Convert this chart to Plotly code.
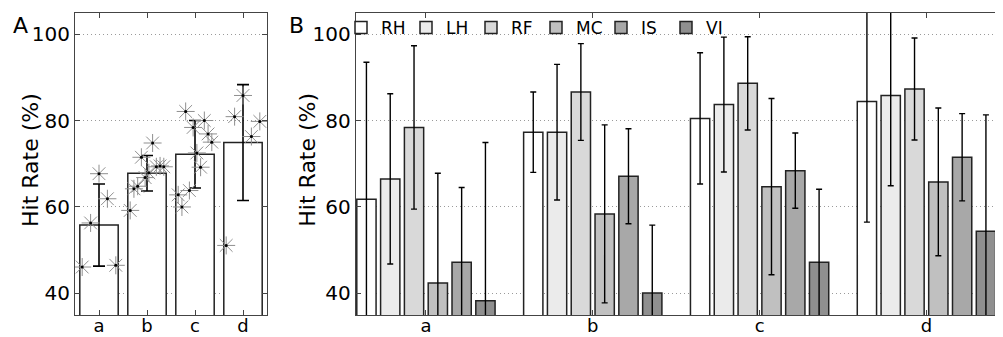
import plotly.graph_objects as go
import numpy as np

# page body has an 8px margin; figure is drawn shifted by it
OFF = 8
W, H = 1003, 337
FONT = "DejaVu Sans"

cats = ["a", "b", "c", "d"]

# Panel A: means, errors and individual points
a_means = [55.8, 67.8, 72.2, 74.9]
a_err = [9.5, 4.1, 7.8, 13.4]
pts_a = [46.1, 56.3, 67.7, 61.9, 46.5]
pts_b = [59.2, 64.2, 64.8, 71.5, 66.8, 67.9, 74.8, 69.3, 69.5, 69.3]
pts_c = [62.8, 60.0, 82.1, 63.8, 78.4, 72.5, 69.2, 80.0, 76.9, 75.0]
pts_d = [51.1, 80.9, 85.8, 76.3, 79.8]

# Panel B: grouped bars
groups = ["RH", "LH", "RF", "MC", "IS", "VI"]
b_RH = [61.8, 77.3, 80.5, 84.4]
b_LH = [66.5, 77.3, 83.7, 85.8]
b_RF = [78.4, 86.6, 88.6, 87.3]
b_MC = [42.4, 58.4, 64.7, 65.8]
b_IS = [47.2, 67.1, 68.4, 71.5]
b_VI = [38.3, 40.1, 47.2, 54.4]
e_RH = [31.7, 9.3, 15.2, 27.9]
e_LH = [19.7, 15.7, 15.6, 20.9]
e_RF = [18.9, 11.2, 10.8, 11.8]
e_MC = [25.4, 20.6, 20.4, 17.1]
e_IS = [17.3, 11.0, 8.7, 10.1]
e_VI = [36.6, 15.7, 16.9, 26.9]
colors = ["#ffffff", "#ebebeb", "#d9d9d9", "#c0c0c0", "#a8a8a8", "#8f8f8f"]

def px_x(x):
    return (x - OFF) / W

def px_y(y):
    return 1 - (y - OFF) / H

fig = go.Figure()
xi = list(range(len(cats)))

fig.add_trace(go.Bar(
    x=xi, y=a_means, width=0.8, xaxis="x", yaxis="y",
    marker=dict(color="white", line=dict(color="#222", width=1.5)),
    error_y=dict(type="data", array=a_err, color="black", thickness=1.6, width=6),
    showlegend=False,
))

px_list, py_list = [], []
for i, pts in enumerate([pts_a, pts_b, pts_c, pts_d]):
    offs = np.linspace(-0.35, 0.35, len(pts))
    px_list += list(i + offs)
    py_list += pts
fig.add_trace(go.Scatter(
    x=px_list, y=py_list, mode="markers", xaxis="x", yaxis="y",
    marker=dict(symbol="asterisk-open", size=15, color="#8f8f8f",
                line=dict(color="#8f8f8f", width=1)),
    showlegend=False,
))
fig.add_trace(go.Scatter(
    x=px_list, y=py_list, mode="markers", xaxis="x", yaxis="y",
    marker=dict(symbol="circle", size=3, color="black"),
    showlegend=False,
))

bvals = [b_RH, b_LH, b_RF, b_MC, b_IS, b_VI]
evals = [e_RH, e_LH, e_RF, e_MC, e_IS, e_VI]
for name, v, e, c in zip(groups, bvals, evals, colors):
    fig.add_trace(go.Bar(
        x=xi, y=v, name=name, xaxis="x2", yaxis="y2",
        marker=dict(color=c, line=dict(color="#222", width=1.5)),
        error_y=dict(type="data", array=e, color="black", thickness=1.4, width=3),
    ))

axis_common = dict(
    showline=True, linecolor="#444", linewidth=1, mirror="allticks",
    ticks="inside", ticklen=5, tickcolor="#444",
    tickfont=dict(family=FONT, size=20, color="black"),
    zeroline=False, automargin=False,
)
y_common = dict(axis_common, range=[35, 105], tickvals=[40, 60, 80, 100],
                showgrid=True, gridcolor="#9a9a9a", griddash="1px,3px", gridwidth=1)
x_common = dict(axis_common, tickvals=xi, ticktext=cats, showgrid=False,
                ticklabelstandoff=-6,
                tickfont=dict(family=FONT, size=18, color="black"))

ydom = [px_y(315), px_y(12.5)]
fig.update_layout(
    width=W, height=H,
    margin=dict(l=0, r=0, t=0, b=0, autoexpand=False),
    paper_bgcolor="white", plot_bgcolor="white",
    barmode="group", bargap=0.144, bargroupgap=0.19,
    xaxis=dict(x_common, domain=[px_x(75), px_x(267)], range=[-0.5, 3.5], anchor="y"),
    yaxis=dict(y_common, domain=ydom, anchor="x"),
    xaxis2=dict(x_common, domain=[px_x(355.7), px_x(1002)], range=[-0.421, 3.453], anchor="y2"),
    yaxis2=dict(y_common, domain=ydom, anchor="x2"),
    legend=dict(
        orientation="h", x=px_x(341), y=px_y(10), xanchor="left", yanchor="top",
        bgcolor="rgba(0,0,0,0)", borderwidth=0,
        font=dict(family=FONT, size=17, color="black"),
        itemwidth=30, entrywidth=20, entrywidthmode="pixels",
        tracegroupgap=0,
    ),
    font=dict(family=FONT, color="black"),
)

annots = [
    dict(text="A", x=px_x(20), y=px_y(26)),
    dict(text="B", x=px_x(296), y=px_y(26)),
    dict(text="Hit Rate (%)", x=px_x(30), y=px_y(160), textangle=-90),
    dict(text="Hit Rate (%)", x=px_x(306.7), y=px_y(160), textangle=-90),
]
for a in annots:
    fig.add_annotation(xref="paper", yref="paper", showarrow=False,
                       xanchor="center", yanchor="middle",
                       font=dict(family=FONT, size=22, color="black"), **a)

fig.write_html("out.html")
